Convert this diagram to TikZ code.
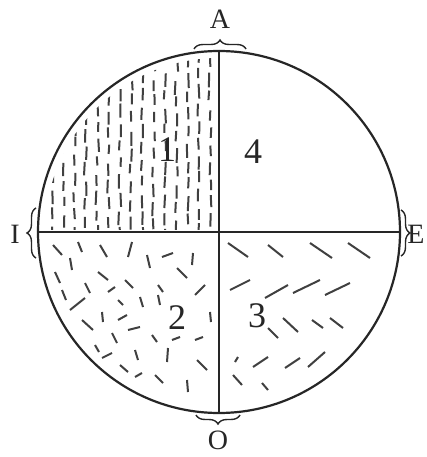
\documentclass[tikz,border=0pt]{standalone}
\usepackage{fontspec}
\setmainfont{Liberation Serif}
\usetikzlibrary{decorations.pathreplacing}
\definecolor{ink}{HTML}{262626}
\definecolor{hatch}{HTML}{404040}
\begin{document}
\begin{tikzpicture}[x=1pt,y=-1pt,
  outline/.style={draw=ink,line width=2.2pt},
  divider/.style={draw=ink,line width=1.8pt},
  dashmark/.style={draw=hatch,line width=2pt},
  bracemark/.style={draw=ink,line width=1.4pt,decorate,decoration={brace,amplitude=9pt}},
  numlabel/.style={font=\fontsize{36}{36}\selectfont,text=ink,inner sep=0pt},
  letlabel/.style={font=\fontsize{28}{28}\selectfont,text=ink,inner sep=0pt}]
\useasboundingbox (0,0) rectangle (426,457);
\fill[white] (0,0) rectangle (426,457);
\coordinate (c) at (219,232);
% quadrant 1 hatching: vertical dashes
\pgfmathsetseed{11}
\begin{scope}
  \clip (c) circle (174);
  \clip (40,54) rectangle (214,229);
  \foreach \i in {0,...,14}{
    \pgfmathsetmacro\xx{52+11.3*\i}
    \pgfmathsetmacro\off{mod(\i*7,13)}
    \foreach \j in {0,...,10}{
      \draw[dashmark] (\xx+rand*1.2,50+\j*17.5+\off+rand*2) -- ++(rand*0.8,12+rand*3);
    }
  }
\end{scope}
% quadrant 2 hatching: random dashes
\foreach \a/\b/\c/\d in {53/245/62/255, 78/242/82/252, 100/245/107/257, 132/242/128/257,
  70/258/72/270, 147/255/150/268, 162/257/173/253, 193/253/192/265,
  55/272/60/283, 98/272/108/280, 125/280/133/288, 177/268/187/278,
  85/283/90/293, 108/292/115/287, 158/285/163/292, 195/295/205/285,
  70/310/85/298, 102/312/103/322, 140/297/143/307, 158/295/160/305,
  82/320/93/330, 118/320/127/315, 112/333/117/343, 128/330/140/327,
  152/335/157/342, 172/340/180/337, 168/348/167/362, 195/340/203/337,
  102/358/112/353, 135/350/138/360, 197/360/207/370, 135/377/142/373,
  155/375/163/383, 187/380/188/392, 62/290/66/300, 95/345/99/352,
  120/365/128/372, 210/312/211/322, 118/300/123/305}{
  \draw[dashmark] (\a,\b) -- (\c,\d);
}
% quadrant 3 hatching: diagonal dashes
\foreach \a/\b/\c/\d in {228/243/248/257, 268/245/283/257, 310/243/332/258, 348/243/370/258,
  230/290/250/280, 265/298/288/285, 293/293/320/280, 325/295/350/283,
  268/328/278/338, 283/318/298/332, 312/320/323/328, 330/318/343/328,
  235/362/238/357, 253/367/268/357, 285/368/300/358, 308/367/325/352,
  233/375/242/385, 262/383/268/390}{
  \draw[dashmark] (\a,\b) -- (\c,\d);
}
% circle and dividers
\node[circle,minimum size=362pt,inner sep=0pt,outline] (disc) at (c) {};
\draw[divider] (disc.north) -- (disc.south);
\draw[divider] (disc.west) -- (disc.east);
% numbers
\node[numlabel] (n1) at (167,150) {1};
\node[numlabel] (n4) at (253,152) {4};
\node[numlabel] (n2) at (177,318) {2};
\node[numlabel] (n3) at (257,316) {3};
% braces
\coordinate (a1) at (194,49);  \coordinate (a2) at (246,49);
\coordinate (i1) at (36,258);  \coordinate (i2) at (36,208);
\coordinate (e1) at (401,210); \coordinate (e2) at (401,256);
\coordinate (o1) at (240,415); \coordinate (o2) at (196,415);
\draw[bracemark] (a1) -- (a2);
\draw[bracemark] (i1) -- (i2);
\draw[bracemark] (e1) -- (e2);
\draw[bracemark] (o1) -- (o2);
% letters
\node[letlabel] (la) at (220,19) {A};
\node[letlabel] (li) at (15,234) {I};
\node[letlabel] (le) at (416,234) {E};
\node[letlabel] (lo) at (218,440) {O};
\end{tikzpicture}
\end{document}
